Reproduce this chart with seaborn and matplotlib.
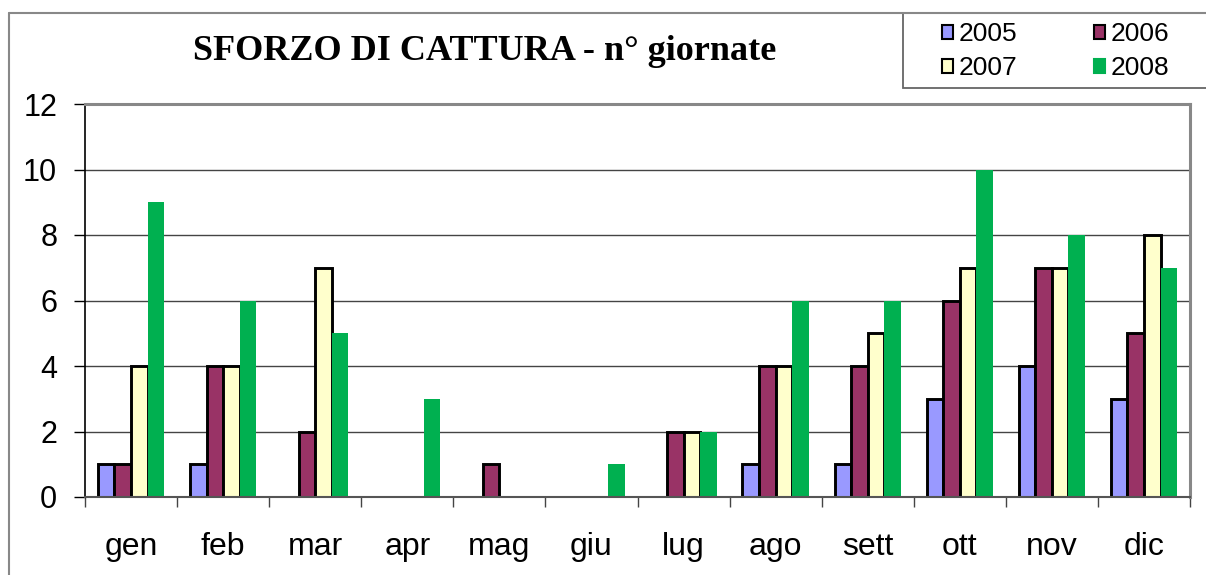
import matplotlib
matplotlib.use("Agg")
import matplotlib.pyplot as plt
import seaborn as sns
import pandas as pd
from matplotlib.patches import Patch, Rectangle
from matplotlib.lines import Line2D

months = ["gen", "feb", "mar", "apr", "mag", "giu", "lug", "ago", "sett", "ott", "nov", "dic"]
years = ["2005", "2006", "2007", "2008"]
v2005 = [1, 1, 0, 0, 0, 0, 0, 1, 1, 3, 4, 3]
v2006 = [1, 4, 2, 0, 1, 0, 2, 4, 4, 6, 7, 5]
v2007 = [4, 4, 7, 0, 0, 0, 2, 4, 5, 7, 7, 8]
v2008 = [9, 6, 5, 3, 0, 1, 2, 6, 6, 10, 8, 7]
colors = ["#9999FF", "#993366", "#FFFFCC", "#00B050"]
edges = ["black", "black", "black", "none"]

rows = []
for y, vals in zip(years, [v2005, v2006, v2007, v2008]):
    for m, v in zip(months, vals):
        rows.append({"mese": m, "anno": y, "giornate": v})
df = pd.DataFrame(rows)

sns.set_theme(style="white")
plt.rcParams["font.family"] = ["Liberation Sans", "DejaVu Sans"]
plt.rcParams["text.color"] = "black"
plt.rcParams["xtick.color"] = "black"
plt.rcParams["ytick.color"] = "black"

fig = plt.figure(figsize=(12.06, 5.75), dpi=100)
ax = fig.add_axes([85 / 1206, 1 - 497 / 575, (1190 - 85) / 1206, (497 - 104) / 575])

sns.barplot(data=df, x="mese", y="giornate", hue="anno", order=months, hue_order=years,
            palette=colors, width=0.72, ax=ax, legend=False, saturation=1)

for container, ec in zip(ax.containers, edges):
    for bar in container:
        if ec == "none" or bar.get_height() == 0:
            bar.set_edgecolor("none")
            bar.set_linewidth(0)
        else:
            bar.set_edgecolor("black")
            bar.set_linewidth(2.1)

ax.set_ylim(0, 12)
ax.set_xlim(-0.5, 11.5)
ax.set_yticks(range(0, 13, 2))
ax.yaxis.grid(True, color="#444444", linewidth=1.0)
ax.set_axisbelow(True)
ax.set_xlabel("")
ax.set_ylabel("")

ax.set_xticks(range(12))
ax.set_xticklabels(months, fontsize=23)
ax.set_xticks([i - 0.5 for i in range(13)], minor=True)
ax.tick_params(axis="x", which="major", length=0, pad=25, labelcolor="black")
ax.tick_params(axis="x", which="minor", length=7, width=1, color="#444444", direction="out", bottom=True)
ax.tick_params(axis="y", length=8, width=1, color="black", direction="out", left=True,
               labelsize=22, pad=12, labelcolor="black")

ax.spines["left"].set_color("black")
ax.spines["left"].set_linewidth(1.2)
ax.spines["bottom"].set_color("#555555")
ax.spines["bottom"].set_linewidth(1.5)
ax.spines["top"].set_color("#888888")
ax.spines["top"].set_linewidth(2.2)
ax.spines["right"].set_color("#888888")
ax.spines["right"].set_linewidth(2.2)

# outer chart frame
fig.add_artist(Line2D([9 / 1206, 9 / 1206], [0, 1 - 13 / 575], transform=fig.transFigure,
                      color="#888888", linewidth=1.5))
fig.add_artist(Line2D([9 / 1206, 1], [1 - 13 / 575, 1 - 13 / 575], transform=fig.transFigure,
                      color="#888888", linewidth=1.5))

fig.text(485 / 1206, 1 - 52 / 575, "SFORZO DI CATTURA - n° giornate",
         family=["Liberation Serif", "DejaVu Serif"], fontsize=26, fontweight="bold",
         ha="center", va="center", color="black")

# legend box
fig.add_artist(Rectangle((903 / 1206, 1 - 88 / 575), 320 / 1206, 75 / 575,
                         transform=fig.transFigure, facecolor="white",
                         edgecolor="#666666", linewidth=1.3))
handles = [Patch(facecolor=c, edgecolor=("black" if e != "none" else c), linewidth=1.5)
           for c, e in zip(colors, edges)]
order = [0, 2, 1, 3]
leg = fig.legend([handles[i] for i in order], [years[i] for i in order], ncol=2,
                 loc="upper left", bbox_to_anchor=(937 / 1206, 1 - 17 / 575),
                 fontsize=19, handlelength=0.42, handleheight=0.42, handletextpad=0.2,
                 frameon=False, borderaxespad=0, borderpad=0.2,
                 labelspacing=0.38, columnspacing=2.9)

fig.savefig("out.png", dpi=100)
